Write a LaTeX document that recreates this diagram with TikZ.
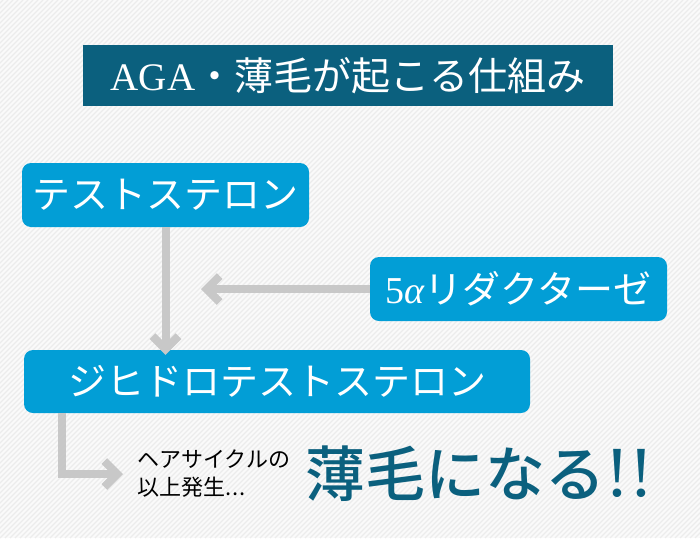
\documentclass[tikz,border=0pt]{standalone}
\usepackage{fontspec}
\setmainfont{Noto Sans CJK JP}
\newfontfamily\latinserif{Liberation Serif}
\newfontfamily\mediumfont{Noto Sans CJK JP Medium}
\usetikzlibrary{arrows.meta,positioning}
\definecolor{DeepTeal}{RGB}{11,96,126}
\definecolor{BrightBlue}{RGB}{2,158,214}
\definecolor{ArrowGray}{RGB}{200,200,200}
\definecolor{PaperGray}{RGB}{250,250,250}
\definecolor{StripeGray}{RGB}{236,236,236}
\tikzset{
  headline/.style={fill=DeepTeal,text=white,inner sep=0pt,minimum width=530pt,
    minimum height=61pt,font=\fontsize{39pt}{44pt}\selectfont},
  substance/.style={fill=BrightBlue,text=white,rounded corners=9pt,inner sep=0pt,
    minimum height=64pt,font=\fontsize{38pt}{44pt}\selectfont},
  flow/.style={ArrowGray,line width=8pt,
    -{Straight Barb[length=13pt,width=26pt,line join=miter,line cap=butt]}},
  note/.style={inner sep=0pt,align=left,font=\fontsize{22pt}{28pt}\selectfont},
  result/.style={inner sep=0pt,text=DeepTeal,font=\fontsize{60pt}{66pt}\mediumfont}
}

\begin{document}
\begin{tikzpicture}[x=1pt,y=-1pt]
  \useasboundingbox (0,0) rectangle (700,538);
  % striped paper
  \fill[PaperGray] (0,0) rectangle (700,538);
  \begin{scope}
    \clip (0,0) rectangle (700,538);
    \foreach \i in {-540,-535,...,700}
      \draw[StripeGray,line width=1.3pt] (\i,538) -- ++(538,-538);
  \end{scope}
  \node[headline] (title) at (348,75.5) {{\latinserif AGA}・薄毛が起こる仕組み};
  \node[substance,minimum width=287pt] (testo) at (165.5,195) {テストステロン};
  \node[substance,minimum width=297pt] (enzyme) at (518.5,289)
    {{\latinserif 5\itshape α}リダクターゼ};
  \node[substance,minimum width=506pt,minimum height=63pt] (dht) at (277,381.5)
    {ジヒドロテストステロン};
  \node[note,anchor=west] (cause) at (137,474)
    {ヘアサイクルの\\以上発生\hbox to 20pt{.\hfil.\hfil.}};
  \node[result,right=15pt of cause] (thin)
    {薄毛になる{\latinserif\fontsize{72pt}{72pt}\selectfont!!}};
  \coordinate (join) at (201,289);
  \draw[flow] (testo.south) -- ([yshift=-5pt]testo.south |- dht.north);
  \draw[flow] (enzyme.west) -- (join);
  \draw[flow] ([xshift=-215pt]dht.south) |- ([xshift=-14pt]cause.west);
\end{tikzpicture}
\end{document}
